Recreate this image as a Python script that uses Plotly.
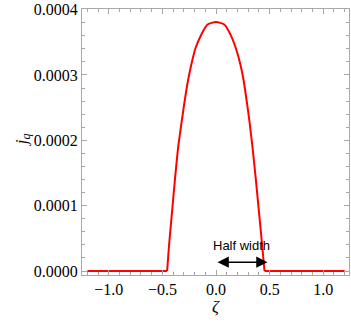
import plotly.graph_objects as go

# flat parts of the curve (zeta, j_q)
left_flat_x = [-1.2, -0.456]
left_flat_y = [0.0, 0.0]
right_flat_x = [0.452, 1.2]
right_flat_y = [0.0, 0.0]

# the bump
bump_x = [-0.456, -0.438, -0.410, -0.382, -0.354, -0.318, -0.297, -0.263, -0.231,
          -0.191, -0.138, -0.082, 0.0, 0.079, 0.135, 0.184, 0.228, 0.259, 0.290,
          0.310, 0.341, 0.370, 0.400, 0.430, 0.452]
bump_y = [0.0, 0.0000398, 0.0000909, 0.0001421, 0.000188, 0.0002314, 0.0002555,
          0.0002901, 0.0003157, 0.0003413, 0.0003617, 0.000377, 0.0003812,
          0.000377, 0.0003617, 0.0003413, 0.0003157, 0.0002901, 0.0002555,
          0.0002314, 0.000188, 0.0001421, 0.0000909, 0.0000398, 0.0]

x_ticks = [-1.0, -0.5, 0.0, 0.5, 1.0]
y_ticks = [0.0, 0.0001, 0.0002, 0.0003, 0.0004]

red = "#ff0000"
frame = "#a8a8a8"
serif = "Liberation Serif"

fig = go.Figure()
fig.add_trace(go.Scatter(x=left_flat_x, y=left_flat_y, mode="lines",
                         line=dict(color=red, width=2)))
fig.add_trace(go.Scatter(x=bump_x, y=bump_y, mode="lines",
                         line=dict(color=red, width=2, shape="spline", smoothing=0.6)))
fig.add_trace(go.Scatter(x=right_flat_x, y=right_flat_y, mode="lines",
                         line=dict(color=red, width=2)))

axis_common = dict(
    showline=True, linecolor=frame, linewidth=1, mirror="allticks",
    ticks="inside", ticklen=5, tickcolor=frame, tickwidth=1,
    showgrid=False, zeroline=False, automargin=False,
    tickfont=dict(family=serif, size=16, color="black"),
)

fig.update_xaxes(range=[-1.25, 1.24], tickvals=x_ticks, tickformat=".1f",
                 minor=dict(ticks="inside", ticklen=3, tickcolor=frame, dtick=0.1,
                            tick0=0, showgrid=False),
                 **axis_common)
fig.update_yaxes(range=[-0.0000061, 0.000401], tickvals=y_ticks, tickformat=".4f",
                 minor=dict(ticks="inside", ticklen=3, tickcolor=frame, dtick=0.00002,
                            tick0=0, showgrid=False),
                 **axis_common)

# half width arrow and label
fig.add_annotation(x=0.48, y=0.0000135, ax=0.0, ay=0.0000135, xref="x", yref="y",
                   axref="x", ayref="y", text="", showarrow=True,
                   arrowhead=2, arrowside="end+start", arrowsize=1.5, arrowwidth=1.5,
                   arrowcolor="black")
fig.add_annotation(x=0.24, y=0.0000388, xref="x", yref="y", text="Half width",
                   showarrow=False, font=dict(family="Liberation Sans", size=13, color="black"))

# axis labels
fig.add_annotation(x=-0.27, y=0.51, xref="paper", yref="paper", text="<i>j</i><sub><i>q</i></sub>",
                   showarrow=False, textangle=-90,
                   font=dict(family=serif, size=17, color="black"))
fig.add_annotation(x=0.5, y=-0.16, xref="paper", yref="paper", text="<i>ζ</i>",
                   showarrow=False, font=dict(family=serif, size=17, color="black"))

fig.update_layout(
    width=351, height=327,
    margin=dict(l=82, r=2, t=9, b=52),
    font=dict(family=serif, color="black"),
    plot_bgcolor="white", paper_bgcolor="white",
    showlegend=False,
)

# drop the browser's default page margin so the figure sits at the window corner
fig.write_html("out.html", config={"displayModeBar": False},
               post_script="document.body.style.margin = '0';")
